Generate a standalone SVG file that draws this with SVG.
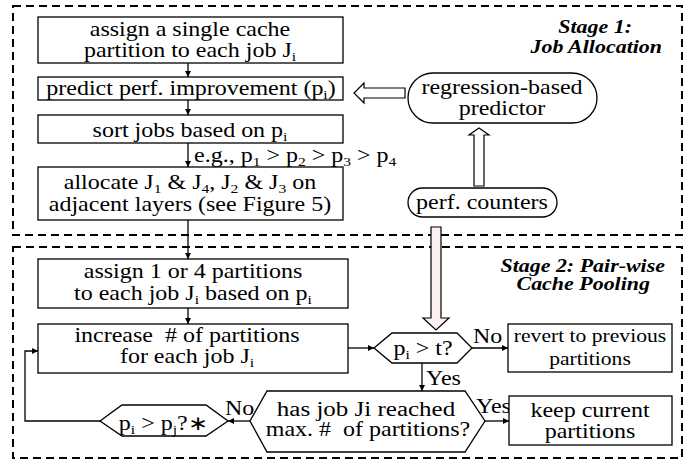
<svg xmlns="http://www.w3.org/2000/svg" width="699" height="460" viewBox="0 0 699 460">
<defs>
<marker id="ah" viewBox="0 0 10 10" refX="10" refY="5" markerWidth="7" markerHeight="6" markerUnits="userSpaceOnUse" orient="auto">
<path d="M0,0 L10,5 L0,10 z" fill="#000"/>
</marker>
</defs>
<style>
text{font-family:'Liberation Serif','Times New Roman',serif;font-size:20px;fill:#000}
.c{text-anchor:middle}
.s{font-size:13px}
.sm{font-size:18px}
.st{font-weight:bold;font-style:italic;font-size:18px;text-anchor:end}
.box{fill:#fff;stroke:#000;stroke-width:1.3}
.stage{fill:none;stroke:#000;stroke-width:2;stroke-dasharray:8 5}
.ln{fill:none;stroke:#000;stroke-width:1.3}
.hollow{fill:#fff;stroke:#000;stroke-width:1.2}
.fat{fill:#fdf0f0;stroke:#000;stroke-width:1.2}
</style>
<rect width="699" height="460" fill="#fff"/>
<g id="stage1">
<rect class="stage" x="13" y="6" width="669" height="229"/>
<text class="st" transform="translate(632,33) scale(1.22,1)">Stage 1:</text>
<text class="st" transform="translate(662,53) scale(1.22,1)">Job Allocation</text>
</g>
<g id="stage2">
<rect class="stage" x="13" y="247" width="669" height="211"/>
<text class="st" transform="translate(665,272) scale(1.22,1)">Stage 2: Pair-wise</text>
<text class="st" transform="translate(650,290) scale(1.22,1)">Cache Pooling</text>
</g>
<g id="connectors">
<line class="ln" x1="188" y1="63" x2="188" y2="77" marker-end="url(#ah)"/>
<line class="ln" x1="188" y1="100" x2="188" y2="115" marker-end="url(#ah)"/>
<line class="ln" x1="188" y1="143" x2="188" y2="167" marker-end="url(#ah)"/>
<text transform="translate(194,162) scale(1.2,1)">e.g., p<tspan class="s" dy="4">1</tspan><tspan dy="-4"> &gt; p</tspan><tspan class="s" dy="4">2</tspan><tspan dy="-4"> &gt; p</tspan><tspan class="s" dy="4">3</tspan><tspan dy="-4"> &gt; p</tspan><tspan class="s" dy="4">4</tspan></text>
<line class="ln" x1="188" y1="220" x2="188" y2="259" marker-end="url(#ah)"/>
<line class="ln" x1="188" y1="308" x2="188" y2="324" marker-end="url(#ah)"/>
<polygon class="hollow" points="405,88 364,88 364,83 354,93 364,103 364,98 405,98"/>
<polygon class="hollow" points="474,186 474,135 469,135 479,128 489,135 484,135 484,186"/>
<polygon class="fat" points="431,227 441,227 441,318 449,318 436,330 423,318 431,318"/>
<line class="ln" x1="348" y1="348" x2="374" y2="348" marker-end="url(#ah)"/>
<line class="ln" x1="472" y1="348" x2="508" y2="348" marker-end="url(#ah)"/>
<text transform="translate(473,343) scale(1.2,1)">No</text>
<line class="ln" x1="422" y1="363" x2="422" y2="391" marker-end="url(#ah)"/>
<text transform="translate(426,385) scale(1.2,1)">Yes</text>
<line class="ln" x1="485" y1="421" x2="509" y2="421" marker-end="url(#ah)"/>
<text transform="translate(476,413) scale(1.2,1)">Yes</text>
<line class="ln" x1="250" y1="421" x2="228" y2="421" marker-end="url(#ah)"/>
<text transform="translate(225,415) scale(1.2,1)">No</text>
<polyline class="ln" points="100,421 25,421 25,351 38,351" marker-end="url(#ah)"/>
</g>
<g id="n1">
<rect class="box" x="38" y="17" width="305" height="46"/>
<text class="c" transform="translate(190,36) scale(1.2,1)">assign a single cache</text>
<text class="c" transform="translate(190,57) scale(1.2,1)">partition to each job J<tspan class="s" dy="4">i</tspan></text>
</g>
<g id="n2">
<rect class="box" x="38" y="77" width="305" height="23"/>
<text class="c" transform="translate(191,95) scale(1.2,1)">predict perf. improvement (p<tspan class="s" dy="4">i</tspan><tspan dy="-4">)</tspan></text>
</g>
<g id="n3">
<rect class="box" x="38" y="115" width="305" height="28"/>
<text class="c" transform="translate(190,137) scale(1.2,1)">sort jobs based on p<tspan class="s" dy="4">i</tspan></text>
</g>
<g id="n4">
<rect class="box" x="38" y="167" width="305" height="53"/>
<text class="c" transform="translate(190,189) scale(1.2,1)">allocate J<tspan class="s" dy="4">1</tspan><tspan dy="-4"> &amp; J</tspan><tspan class="s" dy="4">4</tspan><tspan dy="-4">, J</tspan><tspan class="s" dy="4">2</tspan><tspan dy="-4"> &amp; J</tspan><tspan class="s" dy="4">3</tspan><tspan dy="-4"> on</tspan></text>
<text class="c" transform="translate(190,211) scale(1.2,1)">adjacent layers (see Figure 5)</text>
</g>
<g id="predictor">
<rect class="box" x="408" y="73" width="189" height="50" rx="25" ry="25"/>
<text class="c" transform="translate(502,94) scale(1.2,1)">regression-based</text>
<text class="c" transform="translate(502,115) scale(1.2,1)">predictor</text>
</g>
<g id="counters">
<rect class="box" x="408" y="188" width="149" height="29" rx="14.5" ry="14.5"/>
<text class="c" transform="translate(482,209) scale(1.2,1)">perf. counters</text>
</g>
<g id="n5">
<rect class="box" x="38" y="259" width="310" height="49"/>
<text class="c" transform="translate(193,278) scale(1.2,1)">assign 1 or 4 partitions</text>
<text class="c" transform="translate(193,300) scale(1.2,1)">to each job J<tspan class="s" dy="4">i</tspan><tspan dy="-4"> based on p</tspan><tspan class="s" dy="4">i</tspan></text>
</g>
<g id="n6">
<rect class="box" x="38" y="324" width="310" height="49"/>
<text class="c" transform="translate(187,342) scale(1.2,1)" xml:space="preserve">increase  # of partitions</text>
<text class="c" transform="translate(187,363) scale(1.2,1)">for each job J<tspan class="s" dy="4">i</tspan></text>
</g>
<g id="d1">
<polygon class="box" points="374,348 392,333 457,333 472,348 457,363 392,363"/>
<text class="c" transform="translate(423,355) scale(1.2,1)">p<tspan class="s" dy="4">i</tspan><tspan dy="-4"> &gt; t?</tspan></text>
</g>
<g id="revert">
<rect class="box" x="508" y="324" width="164" height="48"/>
<text class="c sm" transform="translate(590,342) scale(1.2,1)">revert to previous</text>
<text class="c sm" transform="translate(590,365) scale(1.2,1)">partitions</text>
</g>
<g id="d2">
<polygon class="box" points="250,421 267,391 465,391 485,421 465,452 267,452"/>
<text class="c" transform="translate(366,416) scale(1.25,1)">has job Ji reached</text>
<text class="c" transform="translate(368,436) scale(1.2,1)" xml:space="preserve">max. #  of partitions?</text>
</g>
<g id="keep">
<rect class="box" x="509" y="396" width="163" height="49"/>
<text class="c" transform="translate(590,417) scale(1.2,1)">keep current</text>
<text class="c" transform="translate(590,438) scale(1.2,1)">partitions</text>
</g>
<g id="d3">
<polygon class="box" points="100,421 122,405 206,405 228,421 206,436 122,436"/>
<text class="c" transform="translate(163,430) scale(1.2,1)">p<tspan class="s" dy="4">i</tspan><tspan dy="-4"> &gt; p</tspan><tspan class="s" dy="4">j</tspan><tspan dy="-4">?∗</tspan></text>
</g>
</svg>
